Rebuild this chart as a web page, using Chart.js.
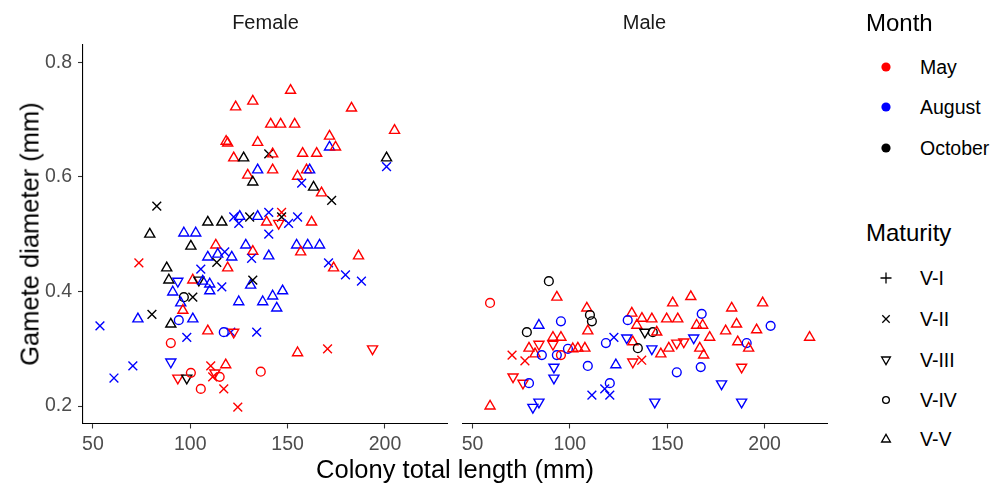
<!DOCTYPE html>
<html><head><meta charset="utf-8">
<script src="https://cdn.jsdelivr.net/npm/chart.js@4.4.1/dist/chart.umd.min.js"></script>
<style>
html,body{margin:0;padding:0;background:#fff;}
body{width:1006px;height:487px;position:relative;overflow:hidden;font-family:"Liberation Sans",Arial,sans-serif;}
.abs{position:absolute;white-space:nowrap;}
.mid{transform:translate(-50%,-50%);}
.vmid{transform:translateY(-50%);}
.strip{font-size:20px;color:#1a1a1a;}
.atitle{font-size:25.5px;color:#000;}
.ltitle{font-size:24px;color:#000;}
.lab{font-size:19.5px;color:#000;}
svg{position:absolute;overflow:visible;}
</style>
</head><body>
<canvas id="c1" class="abs" width="455" height="487" style="left:0;top:0"></canvas>
<canvas id="c2" class="abs" width="380" height="487" style="left:455px;top:0"></canvas>

<div class="abs mid strip" style="left:265.5px;top:22px">Female</div>
<div class="abs mid strip" style="left:644.5px;top:22px">Male</div>
<div class="abs mid atitle" style="left:455px;top:469px">Colony total length (mm)</div>
<div class="abs atitle" style="left:30px;top:234px;transform:translate(-50%,-50%) rotate(-90deg)">Gamete diameter (mm)</div>
<div id="legend"></div>

<script>
// ---------- data ----------
const months = ['May', 'August', 'October'];
const maturities = ['V-I', 'V-II', 'V-III', 'V-IV', 'V-V'];
const xTicks = [50, 100, 150, 200];
const yTicks = [0.2, 0.4, 0.6, 0.8];
const facets = ['Female', 'Male'];

const femaleX = [123.3,132.1,118.4,119.2,134.6,122.3,127.4,129.5,132.1,134.6,82.8,109.0,116.2,122.3,124.9,125.4,130.5,134.6,151.5,182.8,
141.3,146.4,153.6,204.9,171.5,171.5,174.6,140.3,142.3,157.7,164.9,200.8,200.8,142.3,159.7,161.3,155.1,157.2,163.3,167.4,
172.6,140.3,146.9,146.9,139.2,145.4,150.5,155.1,162.3,79.2,96.7,102.8,100.3,113.1,128.5,73.6,109.0,114.1,117.7,121.3,
113.6,119.2,87.9,105.4,89.0,93.6,101.3,104.4,106.4,110.0,116.2,110.0,91.0,131.0,132.1,96.7,101.3,95.1,96.2,124.9,
53.6,73.1,80.3,94.1,101.3,90.0,109.0,117.2,120.8,122.3,90.0,98.2,90.0,70.5,60.8,93.6,98.2,100.3,110.5,118.2,
112.6,111.5,115.1,105.4,117.2,124.4,140.3,132.1,131.5,140.3,154.6,160.3,166.4,156.7,186.4,171.0,173.6,179.7,187.9,147.4,
142.3,137.2,144.4,134.1,155.1,170.5,193.6,136.2];
const femaleY = [0.722,0.732,0.662,0.659,0.660,0.633,0.633,0.603,0.591,0.612,0.549,0.521,0.521,0.530,0.519,0.531,0.530,0.531,0.751,0.720,
0.692,0.692,0.692,0.681,0.671,0.652,0.652,0.640,0.640,0.641,0.641,0.633,0.618,0.612,0.612,0.612,0.601,0.589,0.582,0.572,
0.559,0.538,0.538,0.530,0.521,0.519,0.519,0.530,0.521,0.500,0.502,0.502,0.479,0.481,0.481,0.450,0.460,0.465,0.469,0.460,
0.451,0.441,0.441,0.439,0.420,0.418,0.420,0.420,0.418,0.413,0.408,0.401,0.399,0.411,0.420,0.390,0.390,0.380,0.367,0.382,
0.340,0.352,0.360,0.350,0.352,0.343,0.331,0.329,0.329,0.329,0.310,0.320,0.277,0.270,0.249,0.249,0.249,0.258,0.270,0.272,
0.258,0.251,0.251,0.230,0.230,0.198,0.500,0.470,0.458,0.462,0.481,0.481,0.481,0.469,0.462,0.450,0.441,0.429,0.418,0.401,
0.392,0.382,0.371,0.329,0.293,0.300,0.300,0.260];
const femaleMonth = ['May','May','May','May','May','May','October','May','October','August','October','October','October','August','August','August','October','August','May','May',
'May','May','May','May','May','August','May','October','May','May','May','October','August','May','May','August','May','August','October','May',
'October','August','May','October','May','May','August','August','May','October','August','August','October','May','August','May','August','August','August','August',
'October','May','October','August','October','August','May','October','August','August','August','August','August','August','October','October','October','August','May','August',
'August','August','October','August','August','October','May','August','August','May','May','August','August','August','August','May','October','May','May','May',
'May','May','May','May','May','May','August','May','August','August','August','August','August','May','May','August','May','August','August','August',
'August','August','August','August','May','May','May','May'];
const femaleMaturity = ['V-V','V-V','V-V','V-V','V-V','V-V','V-V','V-V','V-V','V-V','V-II','V-V','V-V','V-II','V-II','V-V','V-II','V-V','V-V','V-V',
'V-V','V-V','V-V','V-V','V-V','V-V','V-V','V-II','V-V','V-V','V-V','V-V','V-II','V-V','V-V','V-V','V-V','V-II','V-V','V-V',
'V-II','V-II','V-II','V-II','V-V','V-III','V-II','V-II','V-V','V-V','V-V','V-V','V-V','V-V','V-V','V-II','V-V','V-V','V-II','V-V',
'V-II','V-V','V-V','V-II','V-V','V-III','V-V','V-III','V-V','V-V','V-II','V-V','V-V','V-V','V-II','V-IV','V-II','V-V','V-V','V-V',
'V-II','V-V','V-II','V-IV','V-V','V-V','V-V','V-IV','V-II','V-III','V-IV','V-II','V-III','V-II','V-II','V-III','V-III','V-IV','V-II','V-V',
'V-III','V-II','V-IV','V-IV','V-II','V-II','V-II','V-V','V-II','V-V','V-V','V-V','V-V','V-V','V-V','V-II','V-V','V-II','V-II','V-V',
'V-V','V-V','V-V','V-II','V-V','V-II','V-III','V-IV'];

const maleX = [89.2,59.0,93.3,108.7,110.3,111.3,95.4,84.1,77.9,109.2,91.3,95.4,84.1,91.3,79.0,82.1,85.6,93.3,95.4,99.0,
101.5,104.1,107.7,70.3,76.9,118.5,122.6,129.2,131.8,137.0,134.4,129.7,132.3,134.9,132.3,91.8,91.8,109.2,123.6,70.8,
75.9,79.0,111.3,117.9,120.5,120.5,81.0,84.1,59.0,162.1,152.8,199.0,183.1,167.7,142.1,149.7,155.4,165.1,168.2,185.6,
203.1,180.0,195.9,223.1,138.5,142.6,144.6,163.6,171.8,154.9,158.5,186.2,190.8,191.8,150.8,166.7,146.7,168.7,142.1,136.9,
167.2,154.9,188.2,177.9,143.6,188.2];
const maleY = [0.418,0.380,0.390,0.371,0.359,0.348,0.348,0.341,0.329,0.331,0.320,0.320,0.308,0.308,0.301,0.291,0.289,0.289,0.289,0.300,
0.300,0.301,0.301,0.289,0.279,0.310,0.320,0.319,0.362,0.353,0.341,0.350,0.312,0.301,0.277,0.268,0.249,0.270,0.272,0.251,
0.240,0.240,0.219,0.230,0.219,0.240,0.198,0.207,0.200,0.391,0.380,0.380,0.371,0.361,0.352,0.352,0.352,0.341,0.341,0.343,
0.340,0.331,0.333,0.320,0.329,0.329,0.329,0.319,0.320,0.310,0.312,0.312,0.310,0.301,0.301,0.301,0.291,0.289,0.300,0.280,
0.268,0.259,0.268,0.239,0.207,0.207];
const maleMonth = ['October','May','May','May','October','October','August','August','October','May','May','May','May','May','May','May','August','August','May','August',
'May','May','May','May','May','August','August','August','May','May','May','August','May','October','May','August','August','August','August','May',
'May','August','August','August','August','August','August','August','May','May','May','May','May','August','May','May','May','May','May','May',
'August','May','May','May','October','October','May','August','May','May','May','May','August','May','May','May','May','May','August','May',
'August','August','May','August','August','August'];
const maleMaturity = ['V-IV','V-IV','V-V','V-V','V-IV','V-IV','V-IV','V-V','V-IV','V-V','V-V','V-V','V-III','V-III','V-V','V-V','V-IV','V-IV','V-IV','V-IV',
'V-V','V-V','V-V','V-II','V-II','V-IV','V-II','V-III','V-V','V-V','V-V','V-IV','V-V','V-IV','V-III','V-III','V-III','V-IV','V-V','V-III',
'V-III','V-IV','V-II','V-II','V-II','V-IV','V-III','V-III','V-V','V-V','V-V','V-V','V-V','V-IV','V-V','V-V','V-V','V-V','V-V','V-V',
'V-IV','V-V','V-V','V-V','V-III','V-IV','V-V','V-III','V-V','V-III','V-III','V-V','V-IV','V-V','V-V','V-V','V-V','V-V','V-III','V-II',
'V-IV','V-IV','V-III','V-III','V-III','V-III'];

// ---------- styling ----------
const monthColors = ['#ff0000', '#0000ff', '#000000'];
const maturityStyle = [
  {style: 'cross', rot: 0, r: 5.5},
  {style: 'crossRot', rot: 0, r: 6.2},
  {style: 'triangle', rot: 180, r: 5.8},
  {style: 'circle', rot: 0, r: 4.4},
  {style: 'triangle', rot: 0, r: 5.8}
];
const FONT = '"Liberation Sans", Arial, sans-serif';
const Y_MIN = 0.1696, Y_MAX = 0.8302, X_MIN = 44.9, X_MAX = 232.05;

function makeChart(id, xs, ys, ms, mats, showY, padding) {
  const st = mats.map(k => maturityStyle[maturities.indexOf(k)]);
  const col = ms.map(m => monthColors[months.indexOf(m)]);
  return new Chart(document.getElementById(id), {
    type: 'scatter',
    data: {datasets: [{
      data: xs.map((x, i) => ({x: x, y: ys[i]})),
      pointStyle: st.map(s => s.style),
      rotation: st.map(s => s.rot),
      pointRotation: st.map(s => s.rot),
      pointRadius: st.map(s => s.r),
      pointHoverRadius: st.map(s => s.r),
      pointBorderColor: col,
      pointBackgroundColor: 'rgba(0,0,0,0)',
      pointBorderWidth: 1.4
    }]},
    options: {
      animation: false, responsive: false, events: [],
      plugins: {legend: {display: false}, tooltip: {enabled: false}, title: {display: false}},
      layout: {padding: padding},
      scales: {
        x: {
          type: 'linear', position: 'bottom', min: X_MIN, max: X_MAX,
          afterBuildTicks: s => { s.ticks = xTicks.map(v => ({value: v})); },
          afterFit: s => { s.height = 30; },
          ticks: {color: '#4d4d4d', font: {family: FONT, size: 19.5}, padding: 4, callback: v => String(v), maxRotation: 0},
          grid: {display: true, drawOnChartArea: false, drawTicks: true, tickLength: 5, tickColor: '#333333', tickWidth: 1.1},
          border: {display: true, color: '#000000', width: 1.1}
        },
        y: {
          type: 'linear', display: showY, min: Y_MIN, max: Y_MAX,
          afterBuildTicks: s => { s.ticks = yTicks.map(v => ({value: v})); },
          afterFit: s => { s.width = showY ? 83 : 0; },
          ticks: {color: '#4d4d4d', font: {family: FONT, size: 19.5}, padding: 6, callback: v => v.toFixed(1)},
          grid: {display: true, drawOnChartArea: false, drawTicks: true, tickLength: 5, tickColor: '#333333', tickWidth: 1.1},
          border: {display: true, color: '#000000', width: 1.1}
        }
      }
    }
  });
}

makeChart('c1', femaleX, femaleY, femaleMonth, femaleMaturity, true, {left: 0, right: 7, top: 45, bottom: 33.5});
makeChart('c2', maleX, maleY, maleMonth, maleMaturity, false, {left: 7, right: 8, top: 45, bottom: 33.5});

// ---------- legend (HTML) ----------
const monthLegendY = [67, 107, 148];
const maturityLegendY = [278, 319, 360, 400, 439];
function symbolSvg(kind, color) {
  const s = 'stroke="' + color + '" stroke-width="1.3" fill="none"';
  switch (kind) {
    case 'dot': return '<circle cx="0" cy="0" r="4.6" fill="' + color + '"/>';
    case 'V-I': return '<path d="M-5.5 0H5.5M0 -5.5V5.5" ' + s + '/>';
    case 'V-II': return '<path d="M-3.7 -3.7L3.7 3.7M-3.7 3.7L3.7 -3.7" ' + s + '/>';
    case 'V-III': return '<path d="M-4.4 -3 L4.4 -3 L0 4.6 Z" ' + s + '/>';
    case 'V-IV': return '<circle cx="0" cy="0" r="3.4" ' + s + '/>';
    case 'V-V': return '<path d="M-4.4 3 L4.4 3 L0 -4.6 Z" ' + s + '/>';
  }
}
let html = '<div class="abs ltitle vmid" style="left:866px;top:23px">Month</div>';
months.forEach((m, i) => {
  html += '<svg width="1" height="1" style="left:886px;top:' + monthLegendY[i] + 'px">' + symbolSvg('dot', monthColors[i]) + '</svg>';
  html += '<div class="abs lab vmid" style="left:920px;top:' + monthLegendY[i] + 'px">' + m + '</div>';
});
html += '<div class="abs ltitle vmid" style="left:866px;top:233px">Maturity</div>';
maturities.forEach((m, i) => {
  html += '<svg width="1" height="1" style="left:886px;top:' + maturityLegendY[i] + 'px">' + symbolSvg(m, '#000') + '</svg>';
  html += '<div class="abs lab vmid" style="left:920px;top:' + maturityLegendY[i] + 'px">' + m + '</div>';
});
document.getElementById('legend').innerHTML = html;
</script>
</body></html>
